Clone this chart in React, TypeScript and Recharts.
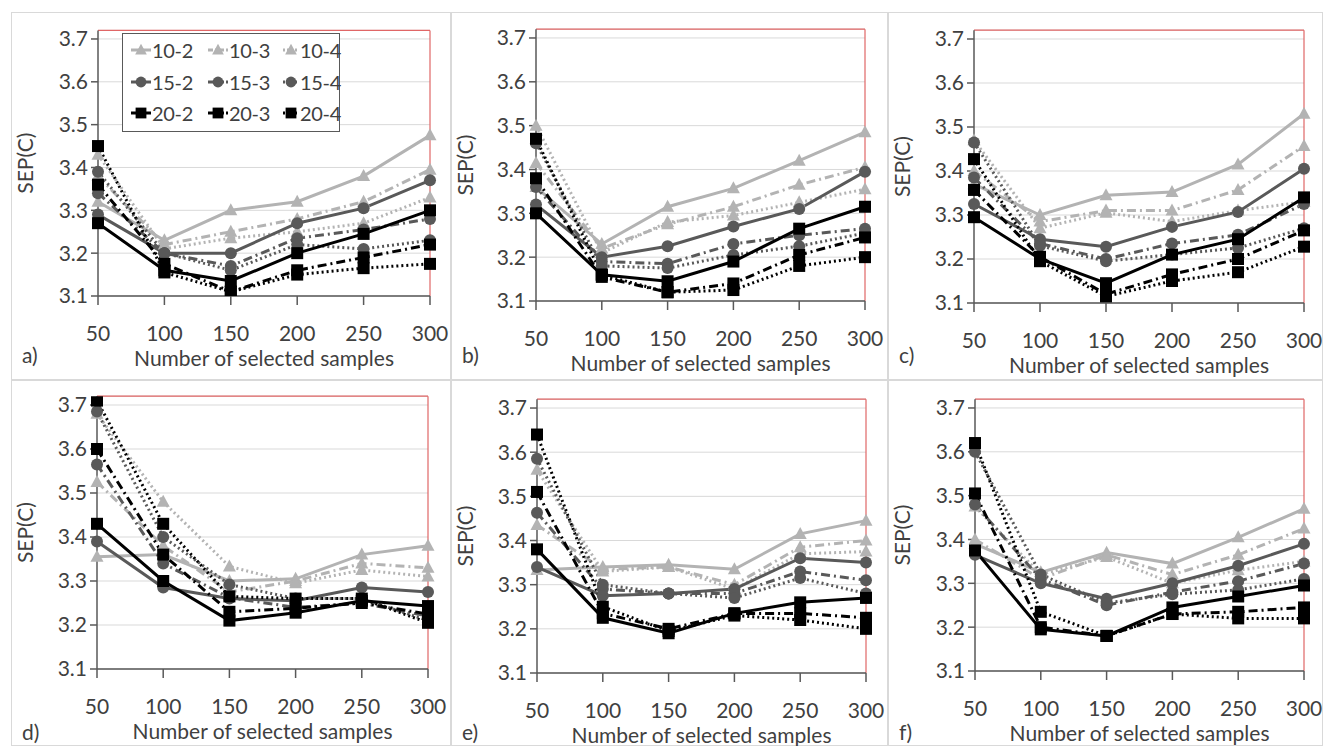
import React from 'react';
import { LineChart, Line, XAxis, YAxis, CartesianGrid, ReferenceLine, Legend, Label } from 'recharts';

const xValues = [50, 100, 150, 200, 250, 300];
const yTicks = [3.1, 3.2, 3.3, 3.4, 3.5, 3.6, 3.7];
const seriesNames = ['10-2', '10-3', '10-4', '15-2', '15-3', '15-4', '20-2', '20-3', '20-4'];
const panelLabels = ['a)', 'b)', 'c)', 'd)', 'e)', 'f)'];
const xTitle = 'Number of selected samples';
const yTitle = 'SEP(C)';

// values per panel, rows follow seriesNames order
const panelA: number[][] = [
  [3.32, 3.23, 3.30, 3.32, 3.38, 3.475],
  [3.38, 3.22, 3.25, 3.28, 3.32, 3.395],
  [3.43, 3.21, 3.235, 3.25, 3.27, 3.33],
  [3.29, 3.20, 3.20, 3.27, 3.305, 3.37],
  [3.34, 3.20, 3.17, 3.235, 3.255, 3.28],
  [3.39, 3.20, 3.16, 3.22, 3.21, 3.23],
  [3.27, 3.16, 3.135, 3.20, 3.245, 3.30],
  [3.36, 3.175, 3.11, 3.16, 3.19, 3.22],
  [3.45, 3.155, 3.11, 3.15, 3.165, 3.175],
];
const panelB: number[][] = [
  [3.36, 3.23, 3.315, 3.357, 3.42, 3.485],
  [3.415, 3.22, 3.275, 3.315, 3.365, 3.405],
  [3.50, 3.21, 3.28, 3.295, 3.325, 3.355],
  [3.32, 3.20, 3.225, 3.27, 3.31, 3.395],
  [3.36, 3.19, 3.185, 3.23, 3.25, 3.265],
  [3.46, 3.18, 3.175, 3.205, 3.225, 3.255],
  [3.30, 3.16, 3.145, 3.19, 3.265, 3.315],
  [3.38, 3.155, 3.12, 3.14, 3.205, 3.245],
  [3.47, 3.16, 3.12, 3.125, 3.18, 3.20],
];
const panelC: number[][] = [
  [3.37, 3.30, 3.345, 3.352, 3.415, 3.53],
  [3.40, 3.285, 3.31, 3.31, 3.357, 3.457],
  [3.47, 3.27, 3.305, 3.285, 3.31, 3.33],
  [3.325, 3.245, 3.228, 3.273, 3.307, 3.405],
  [3.385, 3.235, 3.20, 3.235, 3.255, 3.325],
  [3.465, 3.23, 3.195, 3.21, 3.225, 3.27],
  [3.295, 3.20, 3.145, 3.21, 3.245, 3.34],
  [3.357, 3.205, 3.12, 3.165, 3.20, 3.265],
  [3.427, 3.195, 3.115, 3.15, 3.17, 3.228],
];
const panelD: number[][] = [
  [3.355, 3.36, 3.30, 3.305, 3.36, 3.38],
  [3.525, 3.38, 3.275, 3.30, 3.34, 3.33],
  [3.68, 3.48, 3.333, 3.295, 3.325, 3.31],
  [3.39, 3.285, 3.26, 3.255, 3.285, 3.275],
  [3.565, 3.34, 3.262, 3.24, 3.25, 3.22],
  [3.685, 3.40, 3.292, 3.26, 3.26, 3.21],
  [3.43, 3.30, 3.21, 3.228, 3.255, 3.243],
  [3.60, 3.36, 3.23, 3.238, 3.25, 3.225],
  [3.71, 3.43, 3.265, 3.26, 3.26, 3.205],
];
const panelE: number[][] = [
  [3.333, 3.34, 3.345, 3.335, 3.415, 3.445],
  [3.435, 3.335, 3.34, 3.30, 3.385, 3.40],
  [3.56, 3.33, 3.34, 3.29, 3.37, 3.375],
  [3.34, 3.275, 3.28, 3.29, 3.36, 3.35],
  [3.463, 3.29, 3.28, 3.28, 3.33, 3.31],
  [3.585, 3.30, 3.28, 3.27, 3.315, 3.28],
  [3.38, 3.225, 3.19, 3.235, 3.26, 3.27],
  [3.51, 3.235, 3.20, 3.235, 3.235, 3.225],
  [3.64, 3.25, 3.195, 3.23, 3.22, 3.20],
];
const panelF: number[][] = [
  [3.39, 3.325, 3.37, 3.345, 3.405, 3.47],
  [3.40, 3.31, 3.365, 3.32, 3.365, 3.425],
  [3.475, 3.32, 3.36, 3.30, 3.33, 3.35],
  [3.365, 3.30, 3.265, 3.30, 3.34, 3.39],
  [3.48, 3.31, 3.25, 3.28, 3.305, 3.345],
  [3.60, 3.32, 3.255, 3.275, 3.285, 3.31],
  [3.375, 3.195, 3.18, 3.245, 3.27, 3.295],
  [3.505, 3.20, 3.18, 3.23, 3.235, 3.245],
  [3.62, 3.235, 3.18, 3.23, 3.22, 3.22],
];
const panels = [panelA, panelB, panelC, panelD, panelE, panelF];

// layout (absolute page px)
const frames = [
  { x: 11, y: 12, w: 440, h: 368, L: 98, R: 430, T: 30.4, B: 296 },
  { x: 451, y: 12, w: 437, h: 368, L: 536, R: 865, T: 29.2, B: 301 },
  { x: 888, y: 12, w: 435, h: 368, L: 974, R: 1304, T: 30.2, B: 303 },
  { x: 11, y: 380, w: 440, h: 366, L: 97, R: 428, T: 396.2, B: 669 },
  { x: 451, y: 380, w: 437, h: 366, L: 537, R: 866, T: 399.2, B: 673 },
  { x: 888, y: 380, w: 435, h: 366, L: 975, R: 1304, T: 399.2, B: 671 },
];

const LIGHT = '#b3b3b3';
const MID = '#595959';
const DARK = '#000000';
const DASHDOT = '9 4 2 4';
const DOT = '2 3';

const styleOf = (name: string) => {
  const [g, k] = name.split('-');
  const color = g === '10' ? LIGHT : g === '15' ? MID : DARK;
  const shape = g === '10' ? 'triangle' : g === '15' ? 'circle' : 'square';
  const dash = k === '2' ? undefined : k === '3' ? DASHDOT : DOT;
  return { color, shape, dash };
};

const Marker = ({ cx, cy, shape, color, s = 1 }: any) => {
  if (cx == null || cy == null || isNaN(cx) || isNaN(cy)) return null;
  if (shape === 'triangle')
    return <polygon points={`${cx},${cy - 7 * s} ${cx - 6.5 * s},${cy + 5 * s} ${cx + 6.5 * s},${cy + 5 * s}`} fill={color} />;
  if (shape === 'circle') return <circle cx={cx} cy={cy} r={6 * s} fill={color} />;
  return <rect x={cx - 6 * s} y={cy - 6 * s} width={12 * s} height={12 * s} fill={color} />;
};

const FONT = 'Lato, "Open Sans", sans-serif';
const TEXT = '#404040';

const legendCols = [8, 85, 160];
const legendIconW = [20, 20, 16];

const LegendBox = () => {
  return (
    <div style={{ width: 218, height: 99, border: '1px solid #595959', background: '#fff', boxSizing: 'border-box', position: 'relative', fontFamily: FONT }}>
      {seriesNames.map((n, i) => {
        const row = Math.floor(i / 3);
        const col = i % 3;
        const s = styleOf(n);
        const left = legendCols[col];
        const iw = legendIconW[col];
        const top = 16 + row * 31.5;
        return (
          <div key={n} style={{ position: 'absolute', left, top: top - 13, height: 26, display: 'flex', alignItems: 'center', whiteSpace: 'nowrap' }}>
            <svg width={iw} height={20} style={{ display: 'block' }}>
              <line x1={0} y1={10} x2={iw} y2={10} stroke={s.color} strokeWidth={3} strokeDasharray={s.dash ? (s.dash === DOT ? '2 2' : '5 2 2 2') : undefined} />
              <Marker cx={iw / 2} cy={10} shape={s.shape} color={s.color} s={0.9} />
            </svg>
            <span style={{ fontSize: 20, color: TEXT, marginLeft: 1, lineHeight: '26px', letterSpacing: -0.3 }}>{n}</span>
          </div>
        );
      })}
    </div>
  );
};

const XTitleLabel = (props: any) => {
  const vb = props.viewBox || {};
  return (
    <text x={vb.x + vb.width / 2} y={vb.y + 65} textAnchor="middle" dominantBaseline="middle" fontSize={21} fill={TEXT} fontFamily={FONT}>
      {xTitle}
    </text>
  );
};

const YTitleLabel = (props: any) => {
  const vb = props.viewBox || {};
  const cx = 17;
  const cy = vb.y + vb.height / 2;
  return (
    <text x={cx} y={cy} transform={`rotate(-90 ${cx} ${cy})`} textAnchor="middle" dominantBaseline="middle" fontSize={21} fill={TEXT} fontFamily={FONT}>
      {yTitle}
    </text>
  );
};

const Panel = ({ idx }: { idx: number }) => {
  const f = frames[idx];
  const values = panels[idx];
  const data = xValues.map((x, i) => {
    const row: any = { x };
    seriesNames.forEach((n, k) => (row[n] = values[k][i]));
    return row;
  });
  const margin = { top: f.T - f.y, right: f.x + f.w - f.R, left: 0, bottom: 0 };
  const yWidth = f.L - f.x;
  const xHeight = f.y + f.h - f.B;
  return (
    <div style={{ position: 'absolute', left: f.x, top: f.y, width: f.w, height: f.h }}>
      <div style={{ position: 'absolute', left: 0, top: 0, width: f.w, height: f.h, border: '1px solid #d9d9d9', boxSizing: 'border-box' }} />
      <LineChart width={f.w} height={f.h} data={data} margin={margin} style={{ fontFamily: FONT }}>
        <CartesianGrid vertical={false} stroke="#d9d9d9" strokeWidth={1} />
        <XAxis
          dataKey="x"
          type="number"
          domain={[50, 300]}
          ticks={xValues}
          height={xHeight}
          axisLine={{ stroke: MID, strokeWidth: 1.5 }}
          tickLine={{ stroke: MID, strokeWidth: 1.5 }}
          tickSize={9}
          tickMargin={21}
          tick={{ fontSize: 21, fill: TEXT, fontFamily: FONT }}
          interval={0}
        >
          <Label content={<XTitleLabel />} />
        </XAxis>
        <YAxis
          type="number"
          domain={[3.1, 3.72]}
          ticks={yTicks}
          allowDataOverflow
          width={yWidth}
          axisLine={{ stroke: MID, strokeWidth: 1.5 }}
          tickLine={{ stroke: MID, strokeWidth: 1.5 }}
          tickSize={7}
          tickMargin={3}
          tickFormatter={(v: number) => v.toFixed(1)}
          tick={{ fontSize: 21, fill: TEXT, fontFamily: FONT }}
          interval={0}
        >
          <Label content={<YTitleLabel />} />
        </YAxis>
        <ReferenceLine y={3.72} stroke="#e06666" strokeWidth={1.2} />
        <ReferenceLine x={300} stroke="#e06666" strokeWidth={1.2} />
        {seriesNames.map((n) => {
          const s = styleOf(n);
          return (
            <Line
              key={n}
              dataKey={n}
              name={n}
              stroke={s.color}
              strokeWidth={3}
              strokeDasharray={s.dash}
              isAnimationActive={false}
              dot={(p: any) => <Marker key={`${n}-${p.index}`} cx={p.cx} cy={p.cy} shape={s.shape} color={s.color} />}
              activeDot={false}
            />
          );
        })}
        {idx === 0 && (
          <Legend
            layout="vertical"
            align="center"
            verticalAlign="middle"
            wrapperStyle={{ left: 111, top: 21, width: 218, height: 99 }}
            content={() => <LegendBox />}
          />
        )}
      </LineChart>
      <div style={{ position: 'absolute', left: 11, top: idx < 3 ? 330 : 339, fontSize: 21, color: TEXT, fontFamily: FONT, lineHeight: '26px' }}>
        {panelLabels[idx]}
      </div>
    </div>
  );
};

export default function App() {
  return (
    <div style={{ position: 'absolute', left: 0, top: 0, width: 1325, height: 748, background: '#fff', fontFamily: FONT, overflow: 'hidden' }}>
      {panels.map((_, i) => (
        <Panel key={i} idx={i} />
      ))}
    </div>
  );
}
